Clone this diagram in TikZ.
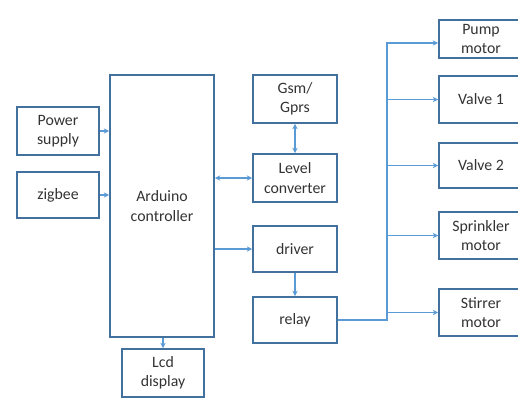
\documentclass[tikz,border=0pt]{standalone}
\usepackage{fontspec}
\setmainfont{Carlito}
\usetikzlibrary{arrows.meta}
\definecolor{boxblue}{HTML}{41719C}
\definecolor{linkblue}{HTML}{5B9BD5}
\tikzset{
  blk/.style={draw=boxblue, line width=1.1pt, align=center, inner sep=1pt,
    font=\fontsize{9}{11}\selectfont, text=black!80},
  link/.style={draw=linkblue, line width=0.6pt, -{Stealth[length=3pt,width=3pt]}},
  dlink/.style={link, {Stealth[length=3pt,width=3pt]}-{Stealth[length=3pt,width=3pt]}}
}
\begin{document}
\begin{tikzpicture}[x=0.02cm, y=-0.02cm]
    \useasboundingbox (0,0) rectangle (518,397);
    \clip (0,0) rectangle (518,397);

    % inputs
    \node[blk, minimum width=1.64cm, minimum height=0.96cm] (power) at (58,131) {Power\\supply};
    \node[blk, minimum width=1.64cm, minimum height=0.92cm] (zigbee) at (58,195) {zigbee};

    % controller
    \node[blk, minimum width=2.08cm, minimum height=5.24cm] (arduino) at (162,206) {Arduino\\controller};
    \node[blk, minimum width=1.64cm, minimum height=0.96cm] (lcd) at (163,373) {Lcd\\display};

    % middle column
    \node[blk, minimum width=1.68cm, minimum height=0.96cm] (gsm) at (295,99) {Gsm/\\Gprs};
    \node[blk, minimum width=1.68cm, minimum height=0.96cm] (level) at (295,178) {Level\\converter};
    \node[blk, minimum width=1.68cm, minimum height=0.92cm] (driver) at (295,249) {driver};
    \node[blk, minimum width=1.68cm, minimum height=0.92cm] (relay) at (295,320) {relay};

    % outputs
    \node[blk, minimum width=1.68cm, minimum height=0.76cm] (pump) at (481,39) {Pump\\motor};
    \node[blk, minimum width=1.68cm, minimum height=0.94cm] (valve1) at (481,99.5) {Valve 1};
    \node[blk, minimum width=1.68cm, minimum height=0.90cm] (valve2) at (481,165.5) {Valve 2};
    \node[blk, minimum width=1.68cm, minimum height=0.94cm] (sprinkler) at (481,235.5) {Sprinkler\\motor};
    \node[blk, minimum width=1.68cm, minimum height=0.94cm] (stirrer) at (481,312.5) {Stirrer\\motor};

    % connections
    \draw[link] (power.east) -- (arduino.west |- power.east);
    \draw[link] (zigbee.east) -- (arduino.west |- zigbee.east);
    \draw[dlink] (arduino.east |- level.west) -- (level.west);
    \draw[link] (arduino.east |- driver.west) -- (driver.west);
    \draw[dlink] (gsm.south) -- (level.north);
    \draw[link] (driver.south) -- (relay.north);
    \draw[link] (arduino.south -| lcd.north) -- (lcd.north);

    % relay bus
    \coordinate (bustop) at (387,43);
    \draw[link] (relay.east) -| (bustop) -- (pump.west |- bustop);
    \foreach \out in {valve1, valve2, sprinkler, stirrer}
        \draw[link] (bustop |- \out.west) -- (\out.west);
\end{tikzpicture}
\end{document}
